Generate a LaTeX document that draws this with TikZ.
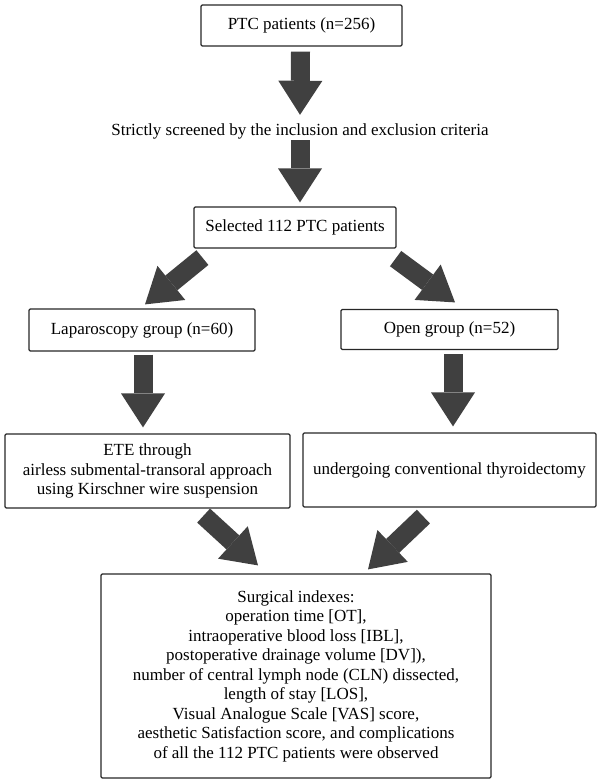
\documentclass[tikz,border=0pt]{standalone}
\usepackage{fontspec}
\setmainfont{Liberation Serif}
\usetikzlibrary{arrows.meta,calc}
\tikzset{
  box/.style={draw=black!85, line width=1.2pt, rounded corners=1.2pt, align=center, inner sep=0pt, font=\fontsize{17}{19.5}\selectfont},
  plaintext/.style={align=center, inner sep=0pt, text height=12pt, text depth=4pt, font=\fontsize{17}{19.5}\selectfont},
  bigarrow/.style={color=black!75, line width=19pt, line cap=butt, -{Triangle[length=34pt,width=44pt,line width=0pt]}}
}
\begin{document}
\begin{tikzpicture}[x=1pt,y=-1pt]
\useasboundingbox (0,0) rectangle (600,783);
% nodes
\node[box, minimum width=201pt, minimum height=41pt] (p1) at (301.5,25.5) {PTC patients (n=256)};
\node[plaintext] (screen) at (300,132) {Strictly screened by the inclusion and exclusion criteria};
\node[box, minimum width=202pt, minimum height=41pt] (sel) at (295,227.5) {Selected 112 PTC patients};
\node[box, minimum width=226pt, minimum height=42pt] (lap) at (142,330) {Laparoscopy group (n=60)};
\node[box, minimum width=217pt, minimum height=40pt] (open) at (449.5,329.5) {Open group (n=52)};
\node[box, minimum width=285pt, minimum height=74pt] (ete) at (147.5,471) {ETE through\\airless submental-transoral approach\\using Kirschner wire suspension};
\node[box, minimum width=293pt, minimum height=74pt] (conv) at (449.5,470) {undergoing conventional thyroidectomy};
\node[box, minimum width=390pt, minimum height=204pt] (surg) at (296,676) {Surgical indexes:\\operation time [OT],\\intraoperative blood loss [IBL],\\postoperative drainage volume [DV]),\\number of central lymph node (CLN) dissected,\\length of stay [LOS],\\Visual Analogue Scale [VAS] score,\\aesthetic Satisfaction score, and complications\\of all the 112 PTC patients were observed};
% connectors
\draw[bigarrow] ($(p1.south)+(-1,5)$) -- ($(screen.north)+(0,-9)$);
\draw[bigarrow] ($(screen.south)+(0,0)$) -- ($(screen.south |- sel.north)+(0,-4)$);
\draw[bigarrow] ($(sel.south west)+(9,9)$) -- ($(lap.north)+(3,-4)$);
\draw[bigarrow] ($(sel.south east)+(-1,10)$) -- ($(open.north)+(5.5,-6.5)$);
\draw[bigarrow] ($(lap.south)+(1,3)$) -- ($(lap.south |- ete.north)+(1,-6)$);
\draw[bigarrow] ($(open.south)+(3.5,4)$) -- ($(conv.north)+(3.5,-6)$);
\draw[bigarrow] ($(ete.south east)+(-87,7)$) -- ($(surg.north)+(-38,-8)$);
\draw[bigarrow] ($(conv.south west)+(121,9)$) -- ($(surg.north)+(72,-4)$);
\end{tikzpicture}
\end{document}
